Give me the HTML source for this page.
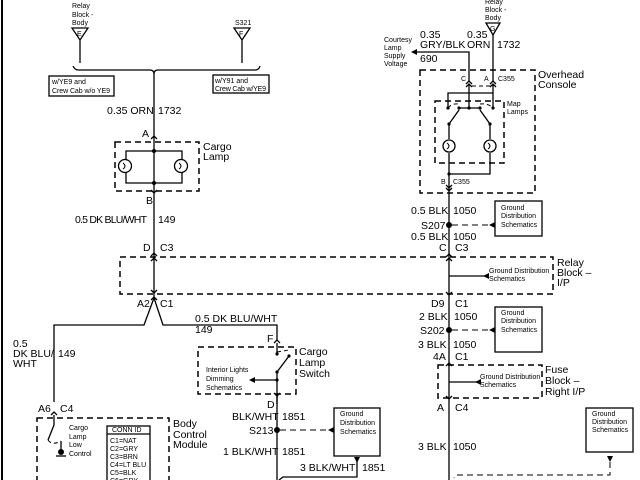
<!DOCTYPE html>
<html><head><meta charset="utf-8"><style>
html,body{margin:0;padding:0;background:#fff;width:640px;height:480px;overflow:hidden}
svg{display:block;font-family:"Liberation Sans",Arial,sans-serif}
.w{stroke:#000;stroke-width:1.3;fill:none}
.d{stroke:#000;stroke-width:1.5;fill:none;stroke-dasharray:6,4}
.dl{stroke:#000;stroke-width:1;fill:none;stroke-dasharray:4,3}
.t{font-size:10.5px}
.s{font-size:7px}
</style></head><body>
<svg width="640" height="480" viewBox="0 0 640 480" xmlns="http://www.w3.org/2000/svg">
<rect width="640" height="480" fill="#fff"/>
<line x1="2" y1="0" x2="2" y2="480" stroke="#000" stroke-width="2"/>

<text class="s" x="72" y="8">Relay</text>
<text class="s" x="72" y="17">Block -</text>
<text class="s" x="72" y="25">Body</text>
<polygon points="72,28 88,28 80,40" class="w"/>
<text class="s" x="77" y="36">E</text>
<line x1="80" y1="40" x2="80" y2="63" class="w"/>
<text class="s" x="235" y="25">S321</text>
<polygon points="234,28 250,28 242,40" class="w"/>
<text class="s" x="239" y="36">F</text>
<line x1="242" y1="40" x2="242" y2="63" class="w"/>
<path d="M73,66 q2,4 5,4 L150,70 q4,0 4,4 q0,-4 4,-4 L255,70 q4,0 5,-4" class="w"/>
<rect x="49" y="76" width="65" height="20" class="w"/>
<text class="s" x="52" y="84">w/YE9 and</text>
<text class="s" x="52" y="93" textLength="58">Crew Cab w/o YE9</text>
<rect x="213" y="75" width="56" height="18" class="w"/>
<text class="s" x="215" y="83">w/Y91 and</text>
<text class="s" x="215" y="91" textLength="51">Crew Cab w/YE9</text>

<line x1="154" y1="74" x2="154" y2="298" class="w"/>
<text class="t" x="107" y="114">0.35 ORN</text>
<text class="t" x="158" y="114">1732</text>
<text class="t" x="142" y="137">A</text>
<path d="M151,139 l3,-3 l3,3" class="w"/>
<rect x="115" y="142" width="84" height="49" class="d"/>
<text class="t" x="203" y="150">Cargo</text>
<text class="t" x="203" y="160">Lamp</text>
<path d="M126,159 V151 H182 V159 M126,173 V183 H182 V173" class="w"/>
<circle cx="154" cy="151" r="2" fill="#000"/><circle cx="154" cy="183" r="2" fill="#000"/>
<circle cx="125" cy="166" r="6.5" class="w"/><circle cx="181" cy="166" r="6.5" class="w"/>
<path d="M123,163 q4,3 0,6 M179,163 q4,3 0,6" class="w" style="stroke-width:1"/>
<path d="M151,190 l3,3 l3,-3" class="w"/>
<text class="t" x="146" y="204">B</text>
<text class="t" x="75" y="223" textLength="72">0.5 DK BLU/WHT</text>
<text class="t" x="158" y="223">149</text>
<text class="t" x="143" y="251">D</text><text class="t" x="160" y="251">C3</text>
<path d="M151,256 l3,-3 l3,3 M151,261 l3,-3 l3,3 M151,290 l3,3 l3,-3" class="w"/>

<rect x="120" y="257" width="433" height="37" class="d"/>
<text class="t" x="557" y="266">Relay</text>
<text class="t" x="557" y="276">Block –</text>
<text class="t" x="557" y="286">I/P</text>
<text class="t" x="137" y="307">A2</text><text class="t" x="160" y="307">C1</text>
<path d="M151,300 l3,-3 l3,3" class="w"/>
<path d="M154,298 L144,325 H54 V402 M154,298 L163,325 H277 V340" class="w"/>
<text class="t" x="13" y="347">0.5</text>
<text class="t" x="13" y="357">DK BLU/</text>
<text class="t" x="13" y="367">WHT</text>
<text class="t" x="58" y="357">149</text>
<text class="t" x="195" y="322">0.5 DK BLU/WHT</text>
<text class="t" x="195" y="333">149</text>
<text class="t" x="267" y="342">F</text>
<path d="M274,343 l3,-3 l3,3" class="w"/>

<rect x="198" y="347" width="98" height="47" class="d"/>
<text class="t" x="299" y="355">Cargo</text>
<text class="t" x="299" y="366">Lamp</text>
<text class="t" x="299" y="377">Switch</text>
<path d="M277,343 V354 M277,372 L289,356 M277,372 V404" class="w"/>
<path d="M277,352 L289,350" class="dl"/>
<circle cx="277" cy="354" r="1.6" fill="#000"/><circle cx="289" cy="356" r="1.6" fill="#000"/>
<circle cx="277" cy="372" r="1.6" fill="#000"/><circle cx="277" cy="380" r="1.6" fill="#000"/>
<line x1="254" y1="380" x2="277" y2="380" class="w"/>
<polygon points="249,380 255,377 255,383" fill="#000"/>
<text class="s" x="206" y="372">Interior Lights</text>
<text class="s" x="206" y="381">Dimming</text>
<text class="s" x="206" y="390">Schematics</text>
<path d="M274,393 l3,3 l3,-3" class="w"/>
<text class="t" x="267" y="408">D</text>
<line x1="277" y1="396" x2="277" y2="480" class="w"/>
<text class="t" x="232" y="420">BLK/WHT</text>
<text class="t" x="282" y="420">1851</text>
<text class="t" x="249" y="434">S213</text>
<circle cx="277" cy="430" r="3" fill="#000"/>
<path d="M280,430 H330" class="d" style="stroke-width:1"/>
<polygon points="328,430 334,427 334,433" fill="#000"/>
<text class="t" x="223" y="455">1 BLK/WHT</text>
<text class="t" x="282" y="455">1851</text>
<rect x="334" y="408" width="46" height="48" class="w"/>
<text class="s" x="340" y="416">Ground</text>
<text class="s" x="340" y="425">Distribution</text>
<text class="s" x="340" y="434">Schematics</text>
<polygon points="354,457 360,457 357,463" fill="#000"/>
<path d="M357,460 V477 H283 L279,480" class="w"/>
<text class="t" x="300" y="471">3 BLK/WHT</text>
<text class="t" x="362" y="471">1851</text>

<text class="t" x="38" y="412">A6</text><text class="t" x="60" y="412">C4</text>
<path d="M51,415 l3,-3 l3,3" class="w"/>
<rect x="37" y="418" width="132" height="70" class="d"/>
<text class="t" x="173" y="427">Body</text>
<text class="t" x="173" y="438">Control</text>
<text class="t" x="173" y="448">Module</text>
<path d="M54,415 V425 L48,440" class="w"/>
<path d="M48,440 Q52,446 61,441" class="dl"/>
<path d="M61,441 V450" class="w"/>
<circle cx="61" cy="452" r="3" fill="#000"/>
<line x1="56" y1="456" x2="66" y2="456" class="w"/>
<text class="s" x="69" y="430">Cargo</text>
<text class="s" x="69" y="439">Lamp</text>
<text class="s" x="69" y="447">Low</text>
<text class="s" x="69" y="456">Control</text>
<rect x="107" y="426" width="43" height="60" class="w"/>
<line x1="107" y1="434" x2="150" y2="434" class="w"/>
<text class="s" x="112" y="432">CONN ID</text>
<text class="s" x="110" y="443">C1=NAT</text>
<text class="s" x="110" y="451">C2=GRY</text>
<text class="s" x="110" y="459">C3=BRN</text>
<text class="s" x="110" y="467">C4=LT BLU</text>
<text class="s" x="110" y="475">C5=BLK</text>
<text class="s" x="110" y="483">C6=GRY</text>

<text class="s" x="485" y="4">Relay</text>
<text class="s" x="485" y="12">Block -</text>
<text class="s" x="485" y="20">Body</text>
<polygon points="486,23 500,23 493,35" class="w"/>
<text class="s" x="490" y="31">G</text>
<line x1="493" y1="35" x2="493" y2="82" class="w"/>
<text class="t" x="467" y="38">0.35</text>
<text class="t" x="467" y="48">ORN</text>
<text class="t" x="497" y="48">1732</text>
<text class="t" x="420" y="38">0.35</text>
<text class="t" x="420" y="48">GRY/BLK</text>
<text class="t" x="420" y="62">690</text>
<text class="s" x="384" y="42">Courtesy</text>
<text class="s" x="384" y="50">Lamp</text>
<text class="s" x="384" y="58">Supply</text>
<text class="s" x="384" y="66">Voltage</text>
<polygon points="411,52 417,49 417,55" fill="#000"/>
<path d="M417,52 H469 V82" class="w"/>
<rect x="420" y="70" width="115" height="123" class="d"/>
<text class="t" x="538" y="78">Overhead</text>
<text class="t" x="538" y="88">Console</text>
<text class="s" x="461" y="81">C</text><text class="s" x="484" y="81">A</text><text class="s" x="498" y="81">C355</text>
<path d="M466,84 l3,-3 l3,3 M466,87 l3,-3 l3,3 M490,84 l3,-3 l3,3 M490,87 l3,-3 l3,3" class="w"/>
<path d="M472,86 H490" class="dl"/>
<path d="M469,84 V108 M493,84 V108 M448,108 V93 H493" class="w"/>
<rect x="435" y="101" width="69" height="62" class="d"/>
<text class="s" x="507" y="106">Map</text>
<text class="s" x="507" y="114">Lamps</text>
<circle cx="448" cy="108" r="1.6" fill="#000"/><circle cx="459" cy="108" r="1.6" fill="#000"/>
<circle cx="469" cy="108" r="1.6" fill="#000"/><circle cx="480" cy="108" r="1.6" fill="#000"/>
<circle cx="493" cy="108" r="1.6" fill="#000"/>
<path d="M448,108 Q452,103 459,104 M480,104 Q488,103 493,108" class="dl"/>
<path d="M459,108 H480 M459,110 L449,124 M480,110 L490,124" class="w"/>
<circle cx="449" cy="124" r="1.6" fill="#000"/><circle cx="490" cy="124" r="1.6" fill="#000"/>
<path d="M449,124 V139 M490,124 V139 M449,153 V174 H490 V153" class="w"/>
<circle cx="449" cy="146" r="6" class="w"/><circle cx="490" cy="146" r="6" class="w"/>
<path d="M447,143 q4,3 0,6 M488,143 q4,3 0,6" class="w" style="stroke-width:1"/>
<circle cx="449" cy="174" r="1.6" fill="#000"/>
<text class="s" x="441" y="184">B</text><text class="s" x="453" y="184">C355</text>
<path d="M446,185 l3,3 l3,-3 M446,188 l3,3 l3,-3" class="w"/>
<line x1="449" y1="174" x2="449" y2="480" class="w"/>
<text class="t" x="411" y="214">0.5 BLK</text>
<text class="t" x="453" y="214">1050</text>
<text class="t" x="421" y="229">S207</text>
<circle cx="449" cy="225" r="3" fill="#000"/>
<path d="M452,225 H490" class="d" style="stroke-width:1"/>
<polygon points="489,225 495,222 495,228" fill="#000"/>
<text class="t" x="411" y="240">0.5 BLK</text>
<text class="t" x="453" y="240">1050</text>
<rect x="495" y="201" width="47" height="35" class="w"/>
<text class="s" x="501" y="210">Ground</text>
<text class="s" x="501" y="218">Distribution</text>
<text class="s" x="501" y="227">Schematics</text>
<text class="t" x="439" y="251">C</text><text class="t" x="455" y="251">C3</text>
<path d="M446,257 l3,-3 l3,3 M446,261 l3,-3 l3,3 M446,292 l3,3 l3,-3" class="w"/>
<path d="M449,276 H486" class="w"/>
<polygon points="483,276 489,273 489,279" fill="#000"/>
<text class="s" x="489" y="273">Ground Distribution</text>
<text class="s" x="489" y="281">Schematics</text>
<text class="t" x="431" y="307">D9</text><text class="t" x="455" y="307">C1</text>
<text class="t" x="419" y="320">2 BLK</text><text class="t" x="454" y="320">1050</text>
<text class="t" x="420" y="334">S202</text>
<circle cx="449" cy="330" r="3" fill="#000"/>
<path d="M452,330 H490" class="d" style="stroke-width:1"/>
<polygon points="489,330 495,327 495,333" fill="#000"/>
<rect x="495" y="307" width="47" height="45" class="w"/>
<text class="s" x="501" y="315">Ground</text>
<text class="s" x="501" y="323">Distribution</text>
<text class="s" x="501" y="332">Schematics</text>
<text class="t" x="418" y="348">3 BLK</text><text class="t" x="453" y="348">1050</text>
<text class="t" x="433" y="360">4A</text><text class="t" x="455" y="360">C1</text>
<path d="M446,366 l3,-3 l3,3 M446,396 l3,3 l3,-3" class="w"/>
<rect x="438" y="365" width="104" height="33" class="d"/>
<text class="t" x="545" y="373">Fuse</text>
<text class="t" x="545" y="384">Block –</text>
<text class="t" x="545" y="395">Right I/P</text>
<path d="M449,382 H478" class="w"/>
<polygon points="475,382 481,379 481,385" fill="#000"/>
<text class="s" x="480" y="379">Ground Distribution</text>
<text class="s" x="480" y="387">Schematics</text>
<text class="t" x="437" y="411">A</text><text class="t" x="455" y="411">C4</text>
<text class="t" x="418" y="450">3 BLK</text><text class="t" x="453" y="450">1050</text>
<rect x="586" y="408" width="47" height="44" class="w"/>
<text class="s" x="592" y="416">Ground</text>
<text class="s" x="592" y="424">Distribution</text>
<text class="s" x="592" y="432">Schematics</text>
<polygon points="607,456 613,456 610,462" fill="#000"/>
<path d="M610,462 V475 H456 L454,478" class="d" style="stroke-width:1"/>
</svg>
</body></html>
